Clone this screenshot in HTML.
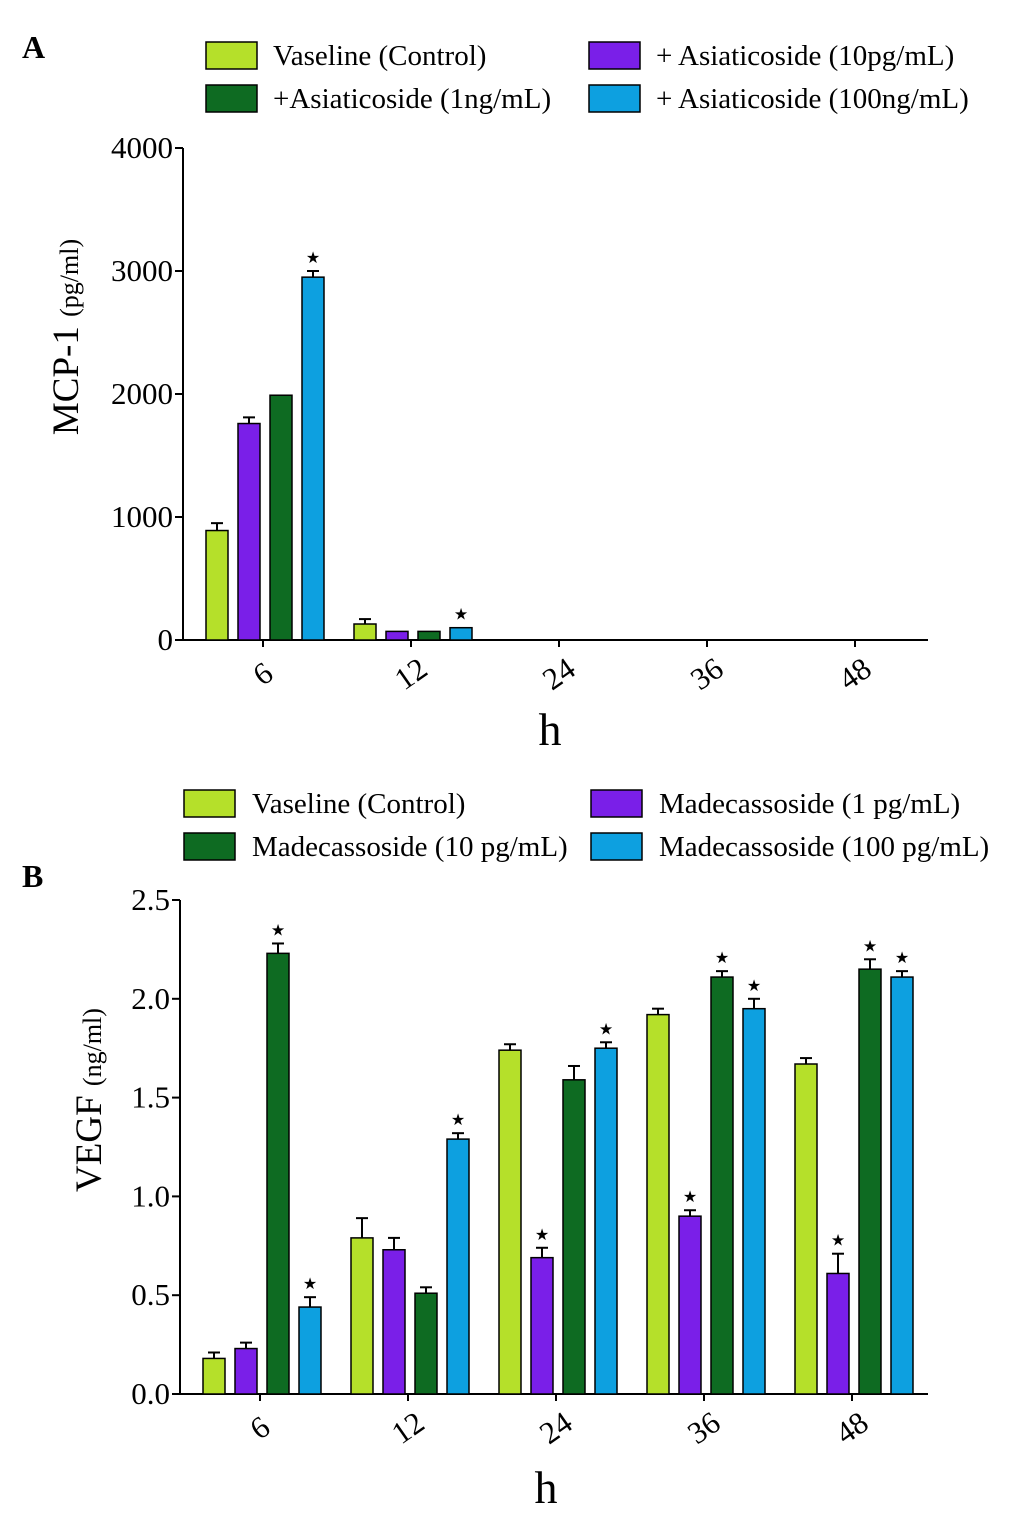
<!DOCTYPE html>
<html><head><meta charset="utf-8"><style>
body{margin:0;background:#fff}
svg text{font-family:"Liberation Serif",serif;fill:#000}
</style></head><body>
<svg id="chart" width="1033" height="1517" viewBox="0 0 1033 1517">
<text x="22" y="58" font-size="32" font-weight="bold">A</text>
<text x="22" y="887" font-size="32" font-weight="bold">B</text>
</svg>
<script>
const colors=['#b5e02a','#7a1fe8','#0e6b22','#0da0e0'];
const categories=['6','12','24','36','48'];
const legendA=['Vaseline (Control)','+Asiaticoside (1ng/mL)','+ Asiaticoside (10pg/mL)','+ Asiaticoside (100ng/mL)'];
const legendB=['Vaseline (Control)','Madecassoside (10 pg/mL)','Madecassoside (1 pg/mL)','Madecassoside (100 pg/mL)'];
const aVaseline=[890,130,0,0,0];
const aLow=[1760,70,0,0,0];
const aMid=[1990,70,0,0,0];
const aHigh=[2950,100,0,0,0];
const aErr=[[60,40,0,0,0],[50,0,0,0,0],[0,0,0,0,0],[50,0,0,0,0]];
const aStars=[[0,0,0,0,0],[0,0,0,0,0],[0,0,0,0,0],[1,1,0,0,0]];
const aTicks=[0,1000,2000,3000,4000];
const bVaseline=[0.18,0.79,1.74,1.92,1.67];
const bLow=[0.23,0.73,0.69,0.90,0.61];
const bMid=[2.23,0.51,1.59,2.11,2.15];
const bHigh=[0.44,1.29,1.75,1.95,2.11];
const bErr=[[0.03,0.10,0.03,0.03,0.03],[0.03,0.06,0.05,0.03,0.10],[0.05,0.03,0.07,0.03,0.05],[0.05,0.03,0.03,0.05,0.03]];
const bStars=[[0,0,0,0,0],[0,0,1,1,1],[1,0,0,1,1],[1,1,1,1,1]];
const bTicks=['0.0','0.5','1.0','1.5','2.0','2.5'];
const NS='http://www.w3.org/2000/svg';
const svg=document.getElementById('chart');
function mk(tag,attrs,text){const e=document.createElementNS(NS,tag);for(const k in attrs)e.setAttribute(k,attrs[k]);if(text!==undefined)e.textContent=text;svg.appendChild(e);return e;}
function panel(p){
  const y=v=>p.y0-(v/p.max)*(p.y0-p.yTop);
  const x=(g,s)=>p.x0+23+g*148+s*32;
  mk('line',{x1:p.x0,y1:p.yTop,x2:p.x0,y2:p.y0,stroke:'#000','stroke-width':2});
  mk('line',{x1:p.x0,y1:p.y0,x2:928,y2:p.y0,stroke:'#000','stroke-width':2});
  p.ticks.forEach(t=>{const v=parseFloat(t);const yy=y(v);
    mk('line',{x1:p.x0-8,y1:yy,x2:p.x0,y2:yy,stroke:'#000','stroke-width':2});
    const e=mk('text',{x:p.x0-10,y:yy+10,'font-size':31,'text-anchor':'end'},t);
    
    });
  categories.forEach((c,g)=>{const cx=p.x0+80+g*148;
    mk('line',{x1:cx,y1:p.y0,x2:cx,y2:p.y0+7,stroke:'#000','stroke-width':2});
    const e=mk('text',{x:cx,y:p.y0+44,'font-size':31,'text-anchor':'middle',transform:`rotate(-35 ${cx} ${p.y0+34})`},c);
    
    });
  p.series.forEach((ser,s)=>ser.forEach((v,g)=>{
    const xx=x(g,s),yy=y(v);
    if(v>0){const r=mk('rect',{x:xx,y:yy,width:22,height:p.y0-yy,fill:colors[s],stroke:'#000','stroke-width':1.5});
      
      }
    const er=p.err[s][g];
    if(er>0){const ye=y(v+er);mk('line',{x1:xx+11,y1:yy,x2:xx+11,y2:ye,stroke:'#000','stroke-width':2});
      mk('line',{x1:xx+5,y1:ye,x2:xx+17,y2:ye,stroke:'#000','stroke-width':2});}
    if(p.stars[s][g]){const st=mk('text',{x:xx+11,y:y(v+er)-8,'font-size':16,'text-anchor':'middle'},'★');
      
      }
  }));
  const t=mk('text',{x:p.titleX,y:p.titleY,'font-size':37,'text-anchor':'middle',transform:`rotate(-90 ${p.titleX} ${p.titleY})`});
  t.innerHTML=p.title;
  
  
  const h=mk('text',{x:p.hX,y:p.hY,'font-size':46,'text-anchor':'middle'},'h');
  
  
  p.legend.forEach((lab,i)=>{const col=i<2?0:1,row=i%2;
    const bx=col?p.lx2:p.lx1,by=p.ly+row*43;
    const r=mk('rect',{x:bx,y:by,width:51,height:27,fill:p.legendColors[i],stroke:'#000','stroke-width':1.5});
    
    
    const e=mk('text',{x:bx+p.tOff,y:by+23,'font-size':29},lab);
    
    });
}
panel({x0:183,y0:640,yTop:148,max:4000,ticks:aTicks.map(String),series:[aVaseline,aLow,aMid,aHigh],err:aErr,stars:aStars,
  title:'MCP-1 <tspan font-size="26">(pg/ml)</tspan>',titleX:78,titleY:337,hX:550,hY:745,
  legend:legendA,legendColors:[colors[0],colors[2],colors[1],colors[3]],lx1:206,lx2:589,ly:42,tOff:67});
panel({x0:180,y0:1394,yTop:900,max:2.5,ticks:bTicks,series:[bVaseline,bLow,bMid,bHigh],err:bErr,stars:bStars,
  title:'VEGF <tspan font-size="26">(ng/ml)</tspan>',titleX:101,titleY:1100,hX:546,hY:1503,
  legend:legendB,legendColors:[colors[0],colors[2],colors[1],colors[3]],lx1:184,lx2:591,ly:790,tOff:68});
</script>
</body></html>
